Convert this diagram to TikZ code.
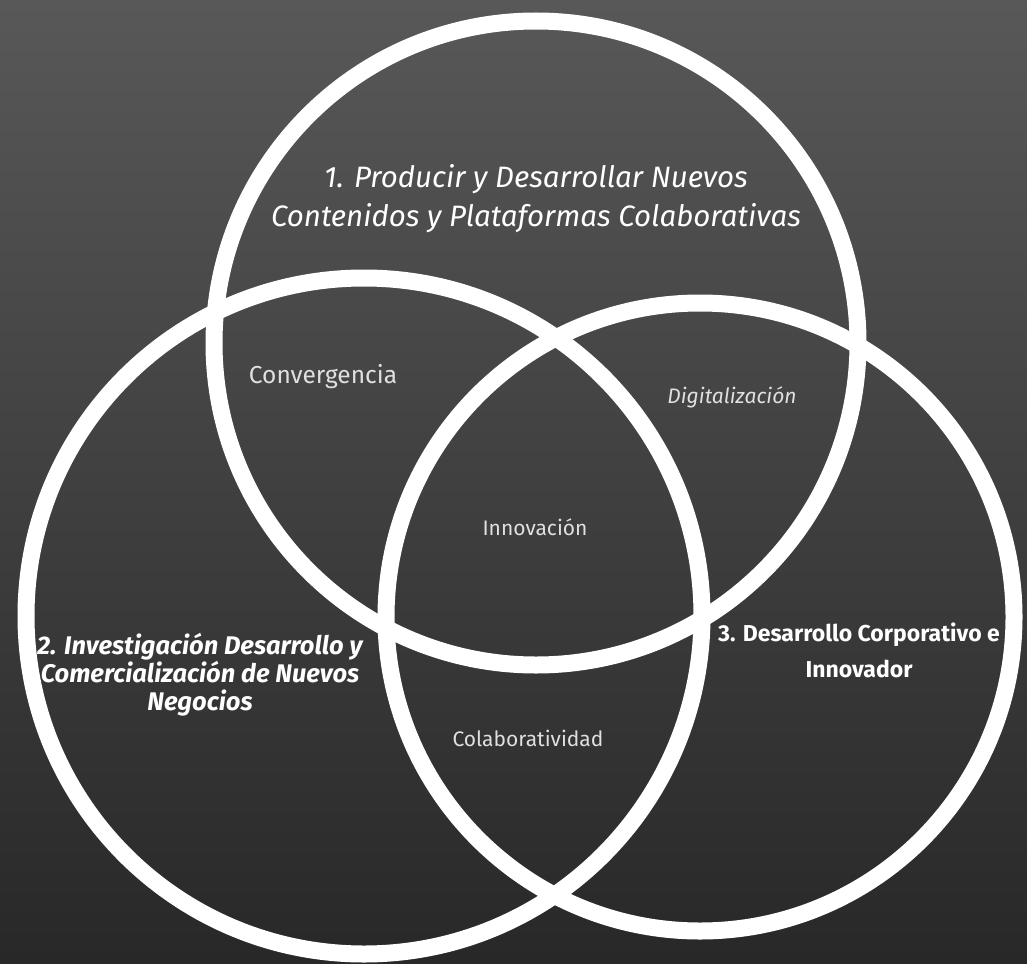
\documentclass[tikz,border=0pt]{standalone}
\usepackage{fontspec}
\setmainfont{Fira Sans}
\begin{document}
\begin{tikzpicture}[x=1pt,y=-1pt,
  ring/.style={draw=white,line width=17pt},
  title/.style={text=white,align=center,font=\itshape\fontsize{29.5}{39}\selectfont},
  lbl/.style={text=white!88!black,font=\fontsize{21}{24}\selectfont}]
\useasboundingbox (0,0) rectangle (1027,963);
\shade[top color={rgb,255:red,88;green,88;blue,88},bottom color={rgb,255:red,40;green,40;blue,40}] (0,0) rectangle (1027,963);
\node[ring,circle,minimum size=644pt,inner sep=0pt] (c1) at (536,343) {};
\node[ring,circle,minimum size=676pt,inner sep=0pt] (c2) at (364,616) {};
\node[ring,circle,minimum size=628pt,inner sep=0pt] (c3) at (700,617) {};
\node[title] (t1) at (536,199) {1. Producir y Desarrollar Nuevos\\Contenidos y Plataformas Colaborativas};
\node[title,font=\itshape\bfseries\fontsize{25.5}{28}\selectfont] (t2) at (200,675) {2. Investigación Desarrollo y\\Comercialización de Nuevos\\Negocios};
\node[title,font=\bfseries\fontsize{23}{36}\selectfont] (t3) at (859,650) {3. Desarrollo Corporativo e\\Innovador};
\node[lbl,font=\fontsize{24.5}{28}\selectfont] (l1) at (323,377) {Convergencia};
\node[lbl,font=\itshape\fontsize{21}{24}\selectfont] (l2) at (732,397) {Digitalización};
\node[lbl] (l3) at (535,527) {Innovación};
\node[lbl] (l4) at (528,738) {Colaboratividad};
\end{tikzpicture}
\end{document}
